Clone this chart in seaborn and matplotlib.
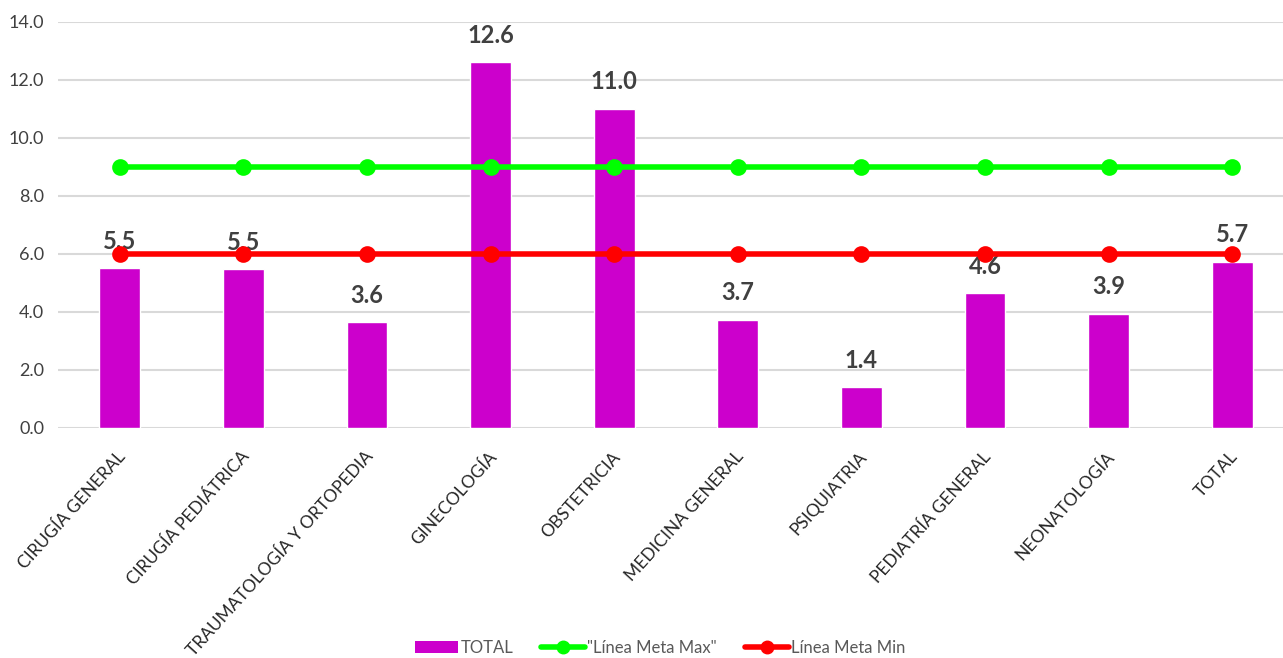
import matplotlib
matplotlib.use("Agg")
import matplotlib.pyplot as plt
import seaborn as sns
import pandas as pd
from matplotlib.lines import Line2D
from matplotlib.patches import Patch
from matplotlib.ticker import FormatStrFormatter
import matplotlib.transforms as mtransforms

categories = ["CIRUGÍA GENERAL", "CIRUGÍA PEDIÁTRICA", "TRAUMATOLOGÍA Y ORTOPEDIA",
              "GINECOLOGÍA", "OBSTETRICIA", "MEDICINA GENERAL", "PSIQUIATRIA",
              "PEDIATRÍA GENERAL", "NEONATOLOGÍA", "TOTAL"]
total = [5.52, 5.47, 3.64, 12.62, 11.01, 3.74, 1.40, 4.64, 3.94, 5.74]
meta_max = [9.0] * 10
meta_min = [6.0] * 10
yticks = [0, 2, 4, 6, 8, 10, 12, 14]

sns.set_style("white")
plt.rcParams['font.family'] = ['Lato', 'DejaVu Sans']

df = pd.DataFrame({"cat": categories, "total": total, "max": meta_max, "min": meta_min})

fig = plt.figure(figsize=(12.83, 6.58), dpi=100)
ax = fig.add_axes([58 / 1283, 230 / 658, 1236 / 1283, 406 / 658])

bar_color = "#cc00cc"
sns.barplot(data=df, x="cat", y="total", color=bar_color, width=0.33,
            saturation=1, ax=ax, zorder=2)

for i, v in enumerate(total):
    ax.annotate(f"{v:.1f}", (i, v), xytext=(0, 11), textcoords="offset points",
                ha="center", va="bottom", fontsize=17, fontweight="bold",
                color="#404040", zorder=3)

sns.pointplot(data=df, x="cat", y="max", color="#00ff00", markers="o",
              linestyles="-", ax=ax, linewidth=4, markersize=9, zorder=4)
sns.pointplot(data=df, x="cat", y="min", color="#ff0000", markers="o",
              linestyles="-", ax=ax, linewidth=4, markersize=9, zorder=5)

if ax.get_legend() is not None:
    ax.get_legend().remove()

ax.set_ylim(0, 14)
ax.set_xlim(-0.5, 9.5)
ax.set_yticks(yticks)
ax.yaxis.set_major_formatter(FormatStrFormatter("%.1f"))
ax.grid(axis="y", color="#d9d9d9", linewidth=1.5, zorder=0)
ax.set_axisbelow(True)
for s in ax.spines.values():
    s.set_visible(False)
ax.set_xlabel("")
ax.set_ylabel("")
ax.tick_params(axis="y", length=0, pad=10, labelsize=13, labelcolor="#404040")
ax.tick_params(axis="x", length=0, pad=0, labelsize=12.5, labelcolor="#262626")
offset = mtransforms.ScaledTranslation(3 / 100, -26 / 100, fig.dpi_scale_trans)
for lab in ax.get_xticklabels():
    lab.set_rotation(48)
    lab.set_ha("right")
    lab.set_va("center")
    lab.set_rotation_mode("anchor")
    lab.set_transform(lab.get_transform() + offset)

handles = [Patch(facecolor=bar_color, edgecolor="none"),
           Line2D([0], [0], color="#00ff00", lw=4, marker="o", markersize=9),
           Line2D([0], [0], color="#ff0000", lw=4, marker="o", markersize=9)]
labels = ["TOTAL", '"Línea Meta Max"', "Línea Meta Min"]
fig.legend(handles, labels, loc="center", bbox_to_anchor=(660 / 1283, 1 - 648 / 658),
           ncol=3, frameon=False, fontsize=12, labelcolor="#595959",
           handlelength=2.6, handletextpad=0.15, columnspacing=1.7)

fig.savefig("out.png", dpi=100)
